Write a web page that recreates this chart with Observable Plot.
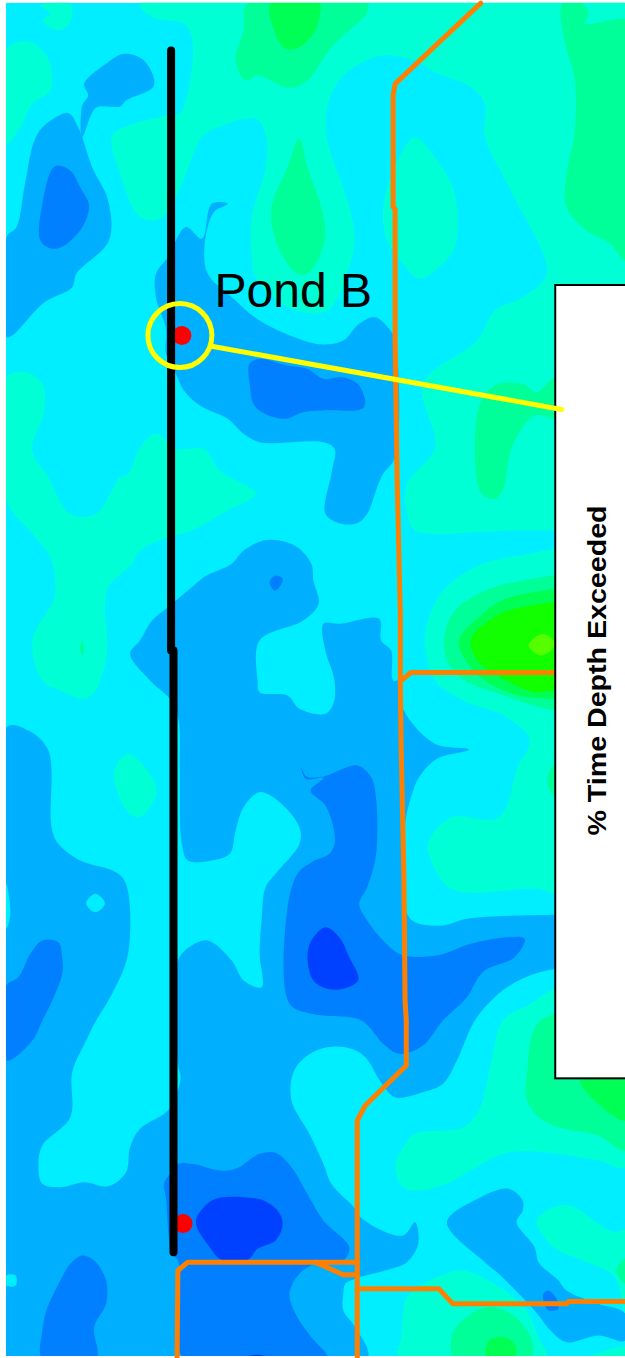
<!DOCTYPE html>
<html><head><meta charset="utf-8">
<script src="https://cdn.jsdelivr.net/npm/d3@7"></script>
<script src="https://cdn.jsdelivr.net/npm/@observablehq/plot@0.6"></script>
<style>html,body{margin:0;padding:0;background:#fff;overflow:hidden}svg{display:block}</style>
</head><body><div id="chart"></div>
<script>
// Contour bands, map coordinates (easting 0-1568, southing 0-4074)
const teal = [
 [[350,8],[380,50],[460,70],[480,110],[478,220],[450,340],[420,345],[320,375],[280,405],[300,520],[350,650],[400,655],[440,590],[500,420],[520,395],[640,355],[665,400],[665,500],[630,650],[630,770],[640,830],[720,920],[820,930],[880,780],[888,720],[880,640],[860,560],[820,420],[820,320],[850,240],[900,190],[960,165],[1040,180],[1090,215],[1180,260],[1215,310],[1215,410],[1280,570],[1370,820],[1310,890],[1240,930],[1195,1020],[1060,1150],[1090,1340],[1020,1450],[1020,1540],[1040,1590],[1200,1595],[1280,1590],[1393,1590],[1568,1590],[1568,8]],
 [[100,15],[125,40],[105,60],[145,90],[175,65],[175,8]],
 [[15,145],[70,122],[105,150],[125,190],[125,270],[80,310],[50,380],[15,430]],
 [[1040,410],[1090,470],[1140,580],[1140,740],[1100,800],[1050,835],[1010,790],[970,720],[960,620],[1000,470]],
 [[15,1130],[65,1115],[105,1150],[110,1230],[80,1350],[120,1430],[175,1540],[240,1540],[300,1430],[320,1420],[350,1340],[390,1300],[440,1345],[510,1345],[550,1410],[640,1480],[570,1530],[480,1590],[420,1610],[350,1650],[330,1690],[270,1760],[262,1820],[268,1920],[265,1980],[250,2040],[240,2070],[210,2095],[150,2070],[105,2040],[80,1920],[135,1790],[135,1720],[125,1670],[80,1600],[15,1500]],
 [[1568,1670],[1280,1670],[1190,1700],[1110,1770],[1070,1870],[1065,1940],[1090,2040],[1160,2100],[1270,2150],[1325,2210],[1325,2240],[1300,2290],[1250,2450],[1130,2450],[1075,2520],[1075,2560],[1130,2665],[1350,2665],[1393,2680],[1568,2680]],
 [[320,2260],[385,2340],[390,2385],[350,2450],[320,2435],[295,2380],[285,2310]],
 [[1260,3060],[1230,3190],[1200,3330],[1160,3380],[1040,3400],[1010,3440],[990,3500],[1010,3560],[1050,3570],[1120,3550],[1180,3510],[1280,3455],[1500,3480],[1568,3500],[1568,2965],[1393,2965],[1330,3010]],
 [[1345,3660],[1400,3615],[1440,3620],[1500,3670],[1540,3695],[1568,3690],[1568,3950],[1540,3830],[1460,3780],[1400,3750],[1370,3720]],
 [[1020,3890],[1150,3810],[1240,3850],[1320,3930],[1350,4010],[1370,4074],[1000,4074],[1005,4010],[1010,3940]],
 [[1470,4074],[1568,4040],[1568,4074]]
];
const green = [
 [[610,90],[590,180],[615,240],[645,225],[725,262],[770,240],[830,140],[920,35],[920,8],[620,8]],
 [[750,415],[770,500],[805,620],[815,700],[800,770],[770,820],[745,820],[710,770],[685,700],[680,620],[720,500]],
 [[1410,8],[1415,120],[1440,230],[1440,400],[1420,520],[1420,620],[1470,690],[1530,730],[1568,780],[1568,60],[1530,60],[1465,70],[1475,45],[1460,8]],
 [[1240,1155],[1310,1150],[1345,1175],[1393,1130],[1568,1130],[1568,1255],[1393,1255],[1340,1245],[1310,1280],[1280,1350],[1260,1470],[1240,1495],[1205,1475],[1200,1220]],
 [[1568,1740],[1290,1745],[1200,1780],[1140,1830],[1115,1900],[1120,1980],[1165,2040],[1250,2080],[1393,2130],[1568,2130]],
 [[205,1920],[210,1945],[205,1965],[200,1945]],
 [[1393,2288],[1375,2320],[1375,2360],[1393,2390],[1568,2390],[1568,2288]],
 [[1355,3060],[1320,3230],[1320,3295],[1350,3350],[1400,3380],[1500,3405],[1568,3450],[1568,3060]],
 [[1130,4020],[1150,3970],[1220,3920],[1280,3940],[1330,4010],[1330,4074],[1140,4074]],
 [[1568,3775],[1545,3810],[1568,3850]]
];
const lime = [
 [[678,8],[690,100],[715,145],[750,140],[785,100],[800,50],[800,8]],
 [[1568,1790],[1280,1790],[1200,1850],[1150,1920],[1170,1985],[1215,2040],[1300,2085],[1393,2095],[1568,2095]],
 [[1455,3240],[1490,3300],[1568,3360],[1568,3240]],
 [[1225,4020],[1260,4010],[1290,4030],[1290,4074],[1220,4074]]
];
const brightGreen = [
 [[1568,1825],[1290,1825],[1215,1870],[1180,1920],[1200,1985],[1270,2040],[1340,2075],[1393,2070],[1568,2070]]
];
const yellowGreen = [
 [[1360,1900],[1390,1925],[1385,1945],[1355,1965],[1325,1935]]
];
const blue2 = [
 [[210,250],[270,185],[310,160],[360,180],[385,255],[315,300],[300,318],[240,322],[205,410],[205,315],[220,285]],
 [[170,338],[195,380],[230,500],[270,600],[272,720],[190,820],[180,860],[110,905],[15,1010],[15,710],[40,680],[60,560],[85,420],[110,375]],
 [[465,680],[505,715],[530,610],[570,610],[535,635],[512,735],[520,820],[580,890],[650,960],[760,1020],[810,1032],[860,1020],[900,970],[940,950],[975,985],[990,1020],[990,1370],[960,1420],[945,1460],[920,1540],[895,1568],[850,1568],[815,1540],[830,1420],[838,1345],[810,1325],[650,1325],[610,1300],[570,1255],[500,1215],[460,1170],[440,1120],[415,1060],[415,985],[390,890],[390,820],[420,770]],
 [[700,1620],[745,1640],[780,1690],[785,1740],[798,1810],[760,1860],[650,1920],[645,2040],[650,2075],[720,2085],[750,2125],[815,2140],[835,2110],[838,2040],[815,1950],[810,1870],[850,1870],[950,1855],[955,1920],[980,1950],[985,2040],[1005,2040],[1010,2125],[1090,2230],[1175,2247],[1095,2275],[1050,2330],[1030,2390],[1015,2470],[1015,2620],[1020,2740],[1040,2765],[1110,2775],[1170,2755],[1393,2743],[1568,2743],[1568,2905],[1393,2905],[1300,2940],[1240,2990],[1190,3060],[1145,3180],[1110,3250],[1060,3275],[990,3290],[960,3255],[915,3170],[880,3145],[820,3140],[770,3165],[735,3215],[730,3300],[775,3400],[810,3490],[830,3550],[890,3625],[895,3640],[940,3680],[1010,3705],[1040,3665],[1048,3730],[1020,3785],[980,3805],[900,3830],[890,3835],[865,3850],[860,3880],[860,3930],[890,3980],[920,4074],[15,4074],[15,2180],[70,2190],[120,2250],[128,2480],[145,2530],[200,2580],[290,2615],[315,2650],[320,2860],[280,2980],[240,3060],[215,3120],[180,3215],[175,3350],[105,3435],[95,3495],[105,3550],[150,3560],[210,3545],[270,3557],[315,3515],[325,3440],[350,3385],[420,3330],[445,3270],[452,3230],[445,3190],[445,2880],[480,2835],[520,2820],[580,2880],[610,2940],[655,2960],[650,2860],[655,2760],[665,2660],[690,2620],[750,2530],[750,2480],[700,2405],[650,2375],[610,2420],[590,2490],[575,2560],[530,2580],[470,2580],[455,2530],[450,2300],[447,2160],[428,2100],[375,2040],[325,1960],[350,1920],[380,1860],[420,1820],[480,1760],[510,1730],[580,1690],[610,1650],[660,1620]],
 [[1120,3665],[1205,3590],[1275,3565],[1310,3600],[1310,3630],[1295,3665],[1340,3740],[1350,3785],[1400,3840],[1420,3870],[1500,3910],[1568,3940],[1568,4020],[1500,4005],[1420,4025],[1380,3990],[1340,3930],[1250,3820],[1215,3785]]
];
const cyanSpots = [
 [[15,3825],[38,3825],[38,3855],[15,3855]],
 [[238,2680],[262,2708],[238,2735],[215,2708]],
 [[15,2650],[25,2740],[15,2785]]
];
const blue1 = [
 [[145,495],[175,510],[200,560],[222,615],[205,680],[160,735],[130,745],[100,720],[105,610],[130,505]],
 [[625,1090],[650,1075],[720,1095],[770,1105],[810,1135],[860,1130],[900,1155],[912,1220],[810,1230],[760,1235],[710,1255],[640,1220],[625,1150]],
 [[690,1725],[708,1735],[700,1760],[688,1770],[675,1745]],
 [[15,2955],[45,2930],[75,2860],[105,2820],[145,2825],[155,2870],[155,2920],[130,3000],[105,3060],[80,3120],[15,3180]],
 [[895,2295],[930,2330],[942,2390],[942,2565],[920,2660],[900,2710],[920,2760],[960,2820],[1005,2862],[1095,2865],[1180,2830],[1250,2813],[1315,2815],[1290,2870],[1210,2915],[1170,2990],[1110,3060],[1060,3135],[1000,3160],[960,3130],[905,3060],[780,3040],[725,3010],[718,2740],[745,2620],[780,2585],[825,2560],[838,2530],[835,2480],[815,2415],[778,2370],[810,2332],[765,2335],[755,2300],[768,2328],[810,2328]],
 [[445,3490],[480,3490],[550,3510],[590,3505],[650,3460],[690,3457],[730,3500],[770,3580],[810,3660],[875,3740],[860,3780],[790,3790],[750,3820],[725,3880],[745,3950],[780,4010],[820,4074],[460,4074],[450,3860],[445,3780],[430,3760],[415,3590],[410,3550],[425,3520]],
 [[175,3790],[205,3765],[235,3780],[265,3840],[265,3910],[235,3980],[240,4074],[105,4074],[105,3990],[115,3930],[150,3840]],
 [[1375,3870],[1395,3895],[1400,3925],[1375,3930],[1362,3900],[1362,3880]]
];
const blue0 = [
 [[815,2780],[850,2810],[875,2870],[898,2938],[860,2965],[820,2965],[785,2940],[770,2870],[780,2820]],
 [[540,3595],[610,3590],[660,3600],[695,3630],[708,3670],[690,3720],[645,3745],[620,3778],[555,3778],[525,3740],[490,3665],[510,3620]],
 [[605,4074],[640,4063],[690,4074]]
];
// Site overlays
const roads = [
 [[1205,8],[1105,120],[990,250],[985,285],[985,620],[990,625],[990,1020],[995,1430],[1003,1840],[1003,2040],[1005,2230],[1012,2620],[1015,3000],[1018,3060],[1018,3195],[915,3315],[895,3360],[895,4074]],
 [[1393,2016],[1030,2016],[1005,2040]],
 [[895,3785],[470,3785],[445,3810],[443,4074]],
 [[790,3785],[860,3823],[895,3823]],
 [[895,3865],[1100,3865],[1135,3910],[1420,3910],[1425,3903],[1568,3903]]
];
const pipelines = [[[428,150],[428,1950]],[[434,1950],[434,3755]]];
const ponds = [[455,1005],[458,3669]];
const marker = [[450,1005]];
const leader = [[533,1038],[1408,1227]];
const label = {text:"Pond B", at:[537,918]};
const panelTitle = "% Time Depth Exceeded";

const bands = [
 [teal,"#00FFD5"],[green,"#00FF99"],[lime,"#00FF55"],[brightGreen,"#11FF00"],[yellowGreen,"#55FF00"],
 [blue2,"#00B0FF"],[cyanSpots,"#00EEFF"],[blue1,"#0080FF"],[blue0,"#0040FF"]
];
const X=d=>d[0],Y=d=>d[1];
const chart = Plot.plot({
  width:625,height:1358,margin:0,
  x:{domain:[0,1568],range:[0,625],axis:null},
  y:{domain:[0,4074],range:[0,1358],axis:null},
  marks:[
    Plot.rect([0],{x1:15,x2:1568,y1:8,y2:4068,fill:"#00EEFF"}),
    ...bands.flatMap(([polys,c])=>polys.map(p=>Plot.line(p,{x:X,y:Y,fill:c,stroke:"none",curve:"catmull-rom-closed"}))),
    Plot.rect([0],{x1:0,x2:15,y1:0,y2:4074,fill:"white"}),
    Plot.rect([0],{x1:0,x2:1568,y1:0,y2:8,fill:"white"}),
    Plot.rect([0],{x1:0,x2:1568,y1:4068,y2:4074,fill:"white"}),
    ...roads.map(r=>Plot.line(r,{x:X,y:Y,stroke:"#FF8000",strokeWidth:5,strokeLinejoin:"round"})),
    Plot.dot(ponds,{x:X,y:Y,r:9.5,fill:"#FF0000"}),
    ...pipelines.map(p=>Plot.line(p,{x:X,y:Y,stroke:"black",strokeWidth:8,strokeLinecap:"round"})),
    Plot.dot(marker,{x:X,y:Y,r:32,stroke:"#FFFF00",strokeWidth:5,fill:"none"}),
    Plot.rect([0],{x1:1393,x2:1590,y1:855,y2:3235,fill:"white",stroke:"black",strokeWidth:2}),
    Plot.line(leader,{x:X,y:Y,stroke:"#FFFF00",strokeWidth:5}),
    Plot.text([label],{x:d=>d.at[0],y:d=>d.at[1],text:d=>d.text,textAnchor:"start",lineAnchor:"bottom",fontSize:48,fontFamily:"Liberation Sans",fill:"black"}),
    Plot.text([panelTitle],{x:1500,y:2010,text:d=>d,rotate:-90,fontSize:25,fontWeight:"bold",fontFamily:"Liberation Sans",fill:"black",className:"paneltitle"})
  ]
});
chart.querySelectorAll(".paneltitle text").forEach(t=>{t.setAttribute("textLength","330");t.setAttribute("lengthAdjust","spacingAndGlyphs");});
document.getElementById("chart").appendChild(chart);
</script></body></html>
